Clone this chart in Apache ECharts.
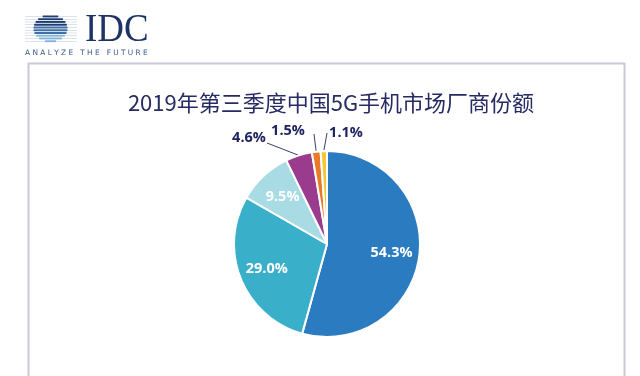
<!DOCTYPE html>
<html>
<head>
<meta charset="utf-8">
<script src="https://cdn.jsdelivr.net/npm/echarts@6/dist/echarts.min.js"></script>
<style>
  html, body { margin: 0; padding: 0; background: #fff; }
  #chart { width: 640px; height: 376px; }
</style>
</head>
<body>
<div id="chart"></div>
<script>
// vendors are unnamed in the source picture, only shares are shown
const slices = ['s1', 's2', 's3', 's4', 's5', 's6']
const shares = [54.3, 29.0, 9.5, 4.6, 1.5, 1.1]
const colors = ['#2a7bbf', '#3aafca', '#a9dbe5', '#9a3b8e', '#ea7a28', '#f1c73e']
const titleText = '2019年第三季度中国5G手机市场厂商份额'

const cx = 327
const cy = 244
const R = 93
// the three thin slices get outside labels: label centre and guide line end
const outsideSpots = {
  3: { label: [249, 138], guide: [267, 143] },
  4: { label: [288, 131], guide: [314, 134] },
  5: { label: [346, 133], guide: [327, 133] }
}

// mid angle of each slice, clockwise from 12 o'clock
const total = shares.reduce((a, b) => a + b, 0)
let acc = 0
const midAngles = shares.map((v) => {
  const a = (acc + v / 2) / total * Math.PI * 2
  acc += v
  return a
})

// IDC logo: striped sphere
const logo = []
const lcx = 50.5, lcy = 28.5, ry = 13.5, rx = 17
for (let i = 0; i < 10; i++) {
  const y = lcy - ry + 0.5 + i * 2.75
  const d = (y + 1 - lcy) / ry
  const half = rx * Math.sqrt(Math.max(1 - d * d, 0))
  logo.push({
    type: 'rect',
    shape: { x: 25, y: y + 0.7, width: 52, height: 0.6 },
    style: { fill: '#bcc8d8' }
  })
  logo.push({
    type: 'rect',
    shape: { x: lcx - half, y: y, width: half * 2, height: 1.9 },
    style: { fill: i < 4 ? '#1f3f73' : i < 7 ? '#3f6fa6' : '#86b5dc' }
  })
}

const chart = echarts.init(document.getElementById('chart'))

chart.setOption({
  backgroundColor: '#ffffff',
  color: colors,
  title: {
    text: titleText,
    left: 326,
    top: 87,
    textAlign: 'center',
    textStyle: {
      fontFamily: 'Noto Sans CJK SC',
      fontSize: 22,
      fontWeight: 'normal',
      color: '#272b63'
    }
  },
  graphic: [
    {
      type: 'rect',
      shape: { x: 28.5, y: 63.5, width: 596, height: 330 },
      style: { fill: 'none', stroke: '#c9c9d8', lineWidth: 2 },
      silent: true
    },
    ...logo,
    {
      type: 'text',
      x: 85,
      y: 10,
      scaleX: 0.9,
      style: {
        text: 'IDC',
        font: '41px "Liberation Serif"',
        fill: '#1d3566'
      }
    },
    {
      type: 'text',
      left: 25,
      top: 50,
      style: {
        text: 'A N A L Y Z E   T H E   F U T U R E',
        font: '7.4px "DejaVu Sans"',
        fill: '#3a5a8a'
      }
    }
  ],
  series: [
    {
      type: 'pie',
      center: [cx, cy],
      radius: R,
      startAngle: 90,
      clockwise: true,
      avoidLabelOverlap: false,
      itemStyle: { borderColor: '#ffffff', borderWidth: 2 },
      label: {
        show: true,
        position: 'outside',
        formatter: (p) => p.value.toFixed(1) + '%',
        fontFamily: 'Open Sans',
        fontWeight: 'bold',
        fontSize: 14.5,
        color: '#1f2360'
      },
      labelLine: {
        show: true,
        length: 10,
        length2: 10,
        lineStyle: { color: '#3b3f6b', width: 1 }
      },
      labelLayout: (p) => {
        const i = p.dataIndex
        const a = midAngles[i]
        const spot = outsideSpots[i]
        if (spot) {
          const edge = [cx + Math.sin(a) * R, cy - Math.cos(a) * R]
          const mid = [(edge[0] + spot.guide[0]) / 2, (edge[1] + spot.guide[1]) / 2]
          return {
            x: spot.label[0],
            y: spot.label[1],
            align: 'center',
            verticalAlign: 'middle',
            labelLinePoints: [edge, mid, spot.guide]
          }
        }
        return {
          x: cx + Math.sin(a) * R * 0.7,
          y: cy - Math.cos(a) * R * 0.7,
          align: 'center',
          verticalAlign: 'middle'
        }
      },
      emphasis: { disabled: true },
      data: slices.map((name, i) => ({
        name,
        value: shares[i],
        label: i < 3 ? { color: '#ffffff' } : undefined,
        labelLine: i < 3 ? { show: false } : undefined
      }))
    }
  ]
})
</script>
</body>
</html>
